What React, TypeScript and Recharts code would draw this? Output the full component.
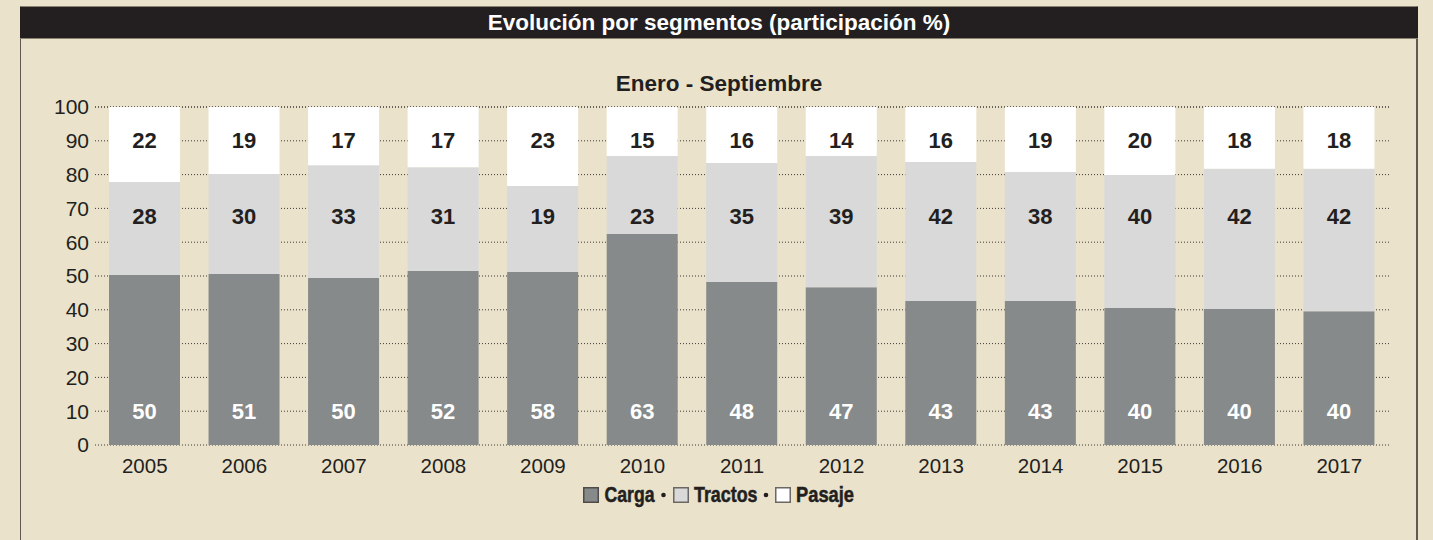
import React from 'react';
import { BarChart, Bar, XAxis, YAxis, CartesianGrid, LabelList } from 'recharts';

const years = ['2005', '2006', '2007', '2008', '2009', '2010', '2011', '2012', '2013', '2014', '2015', '2016', '2017'];
const carga = [50.3, 50.6, 49.4, 51.5, 51.2, 62.4, 48.2, 46.7, 42.6, 42.6, 40.5, 40.2, 39.6];
const tractos = [27.5, 29.6, 33.4, 30.7, 25.4, 23.1, 35.2, 38.8, 41.1, 38.2, 39.4, 41.5, 42.1];
const pasaje = [22.2, 19.8, 17.2, 17.8, 23.4, 14.5, 16.6, 14.5, 16.3, 19.2, 20.1, 18.3, 18.3];
const cargaLabels = ['50', '51', '50', '52', '58', '63', '48', '47', '43', '43', '40', '40', '40'];
const tractosLabels = ['28', '30', '33', '31', '19', '23', '35', '39', '42', '38', '40', '42', '42'];
const pasajeLabels = ['22', '19', '17', '17', '23', '15', '16', '14', '16', '19', '20', '18', '18'];
const yTicks = [0, 10, 20, 30, 40, 50, 60, 70, 80, 90, 100];
const seriesNames = ['Carga', 'Tractos', 'Pasaje'];

const data = years.map((year, i) => ({
  year,
  carga: carga[i],
  tractos: tractos[i],
  pasaje: pasaje[i],
  cargaLabel: cargaLabels[i],
  tractosLabel: tractosLabels[i],
  pasajeLabel: pasajeLabels[i],
}));

const C_CARGA = '#868a8a';
const C_TRACTOS = '#d9d9d9';
const C_PASAJE = '#ffffff';
const BG = '#eae2cb';
const INK = '#231f20';
const FONT = '"Liberation Sans", Arial, Helvetica, sans-serif';

const makeLabel = (
  values: number[],
  bases: number[],
  labels: string[],
  atValue: number,
  color: string
) => (props: any) => {
  const vb = props.viewBox || props;
  const x = vb.x ?? props.x;
  const yRaw = vb.y ?? props.y;
  const hRaw = vb.height ?? props.height;
  const width = vb.width ?? props.width;
  const index = props.index;
  if (index == null || x == null) return null;
  const h = Math.abs(hRaw);
  const y = hRaw < 0 ? yRaw + hRaw : yRaw;
  const ppu = h / values[index];
  const zero = y + h + bases[index] * ppu;
  const ty = zero - atValue * ppu;
  return (
    <text
      x={x + width / 2}
      y={ty}
      textAnchor="middle"
      dominantBaseline="central"
      fill={color}
      fontFamily={FONT}
      fontWeight="bold"
      fontSize={22}
    >
      {labels[index]}
    </text>
  );
};

const zeros = years.map(() => 0);
const tractosBase = carga;
const pasajeBase = carga.map((c, i) => c + tractos[i]);

const LegendSvg = () => {
  const items = [
    { fill: C_CARGA, border: '#4e4b48', sqX: 583, txX: 604.5, len: 50, bullet: 663.5 },
    { fill: C_TRACTOS, border: '#6a6764', sqX: 673, txX: 694, len: 63.5, bullet: 766 },
    { fill: C_PASAJE, border: '#6a6764', sqX: 775, txX: 796, len: 58, bullet: null as number | null },
  ];
  return (
    <svg width={1433} height={540} style={{ position: 'absolute', left: 0, top: 0, pointerEvents: 'none' }}>
      {items.map((it, i) => (
        <g key={i}>
          <rect x={it.sqX + 0.75} y={487.75} width={14.5} height={14.5} fill={it.fill} stroke={it.border} strokeWidth={1.5} />
          <text
            x={it.txX}
            y={502}
            fontFamily={FONT}
            fontWeight="bold"
            fontSize={21.5}
            fill={INK}
            stroke={INK}
            strokeWidth={0.5}
            textLength={it.len}
            lengthAdjust="spacingAndGlyphs"
          >
            {seriesNames[i]}
          </text>
          {it.bullet != null && <circle cx={it.bullet} cy={495} r={2.3} fill={INK} />}
        </g>
      ))}
    </svg>
  );
};

export default function App() {
  return (
    <div
      style={{
        position: 'absolute',
        left: 0,
        top: 0,
        width: 1433,
        height: 540,
        background: BG,
        overflow: 'hidden',
        fontFamily: FONT,
      }}
    >
      <div
        style={{
          position: 'absolute',
          left: 20,
          top: 6,
          width: 1398,
          height: 600,
          borderLeft: '1px solid #615a51',
          borderRight: '2px solid #615a51',
          borderTop: '1px solid #8a8170',
          boxSizing: 'border-box',
        }}
      />
      <div
        style={{
          position: 'absolute',
          left: 20,
          top: 7,
          width: 1398,
          height: 31,
          background: INK,
          borderBottom: '1px solid #8a8170',
          color: '#ffffff',
          fontWeight: 'bold',
          fontSize: 22.5,
          lineHeight: '31px',
          textAlign: 'center',
        }}
      >
        Evolución por segmentos (participación %)
      </div>
      <div
        style={{
          position: 'absolute',
          left: 20,
          top: 71,
          width: 1398,
          textAlign: 'center',
          fontWeight: 'bold',
          fontSize: 22.5,
          color: INK,
          lineHeight: '26px',
        }}
      >
        Enero - Septiembre
      </div>
      <div style={{ position: 'absolute', left: 0, top: 0 }}>
        <BarChart
          width={1433}
          height={540}
          data={data}
          margin={{ top: 107, right: 44, bottom: 65, left: 35 }}
          barCategoryGap={0}
          barGap={0}
        >
          <CartesianGrid
            horizontal
            vertical={false}
            stroke="#3d3935"
            strokeDasharray="1 2"
            strokeWidth={1}
          />
          <XAxis
            dataKey="year"
            height={30}
            axisLine={false}
            tickLine={false}
            tickSize={0}
            tickMargin={13}
            interval={0}
            tick={{ fill: INK, fontSize: 20.5, fontFamily: FONT }}
          />
          <YAxis
            width={60}
            domain={[0, 100]}
            ticks={yTicks}
            interval={0}
            axisLine={false}
            tickLine={false}
            tickSize={0}
            tickMargin={6}
            tick={{ fill: INK, fontSize: 21, fontFamily: FONT }}
          />
          <Bar dataKey="carga" stackId="s" fill={C_CARGA} barSize={71} isAnimationActive={false}>
            <LabelList dataKey="cargaLabel" content={makeLabel(carga, zeros, cargaLabels, 10, '#ffffff')} />
          </Bar>
          <Bar dataKey="tractos" stackId="s" fill={C_TRACTOS} barSize={71} isAnimationActive={false}>
            <LabelList dataKey="tractosLabel" content={makeLabel(tractos, tractosBase, tractosLabels, 67.5, INK)} />
          </Bar>
          <Bar dataKey="pasaje" stackId="s" fill={C_PASAJE} barSize={71} isAnimationActive={false}>
            <LabelList dataKey="pasajeLabel" content={makeLabel(pasaje, pasajeBase, pasajeLabels, 90, INK)} />
          </Bar>
        </BarChart>
      </div>
      <LegendSvg />
    </div>
  );
}
